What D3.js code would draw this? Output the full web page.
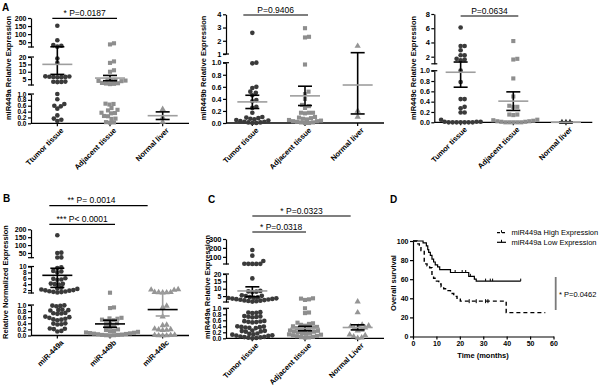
<!DOCTYPE html>
<html>
<head>
<meta charset="utf-8">
<script src="https://cdn.jsdelivr.net/npm/d3@7"></script>
<style>
  body { margin: 0; background: #fff; }
  svg { display: block; }
</style>
</head>
<body>
<svg id="fig" width="600" height="388"></svg>
<script>
"use strict";

const FONT = "'Liberation Sans', Arial, Helvetica, sans-serif";

// ---------- Panel A (miR449a) ----------
const catA1 = ["Ttumor tissue", "Adjacent tissue", "Normal liver"];
const tumorA1 = [152, 62, 32, 28, 22, 19, 16, 6.9, 6.8, 6.6, 6.5, 6.4, 6.3, 6.2, 3.3, 3.2, 3.1, 3.0,
    1.0, 0.82, 0.66, 0.6, 0.58, 0.5, 0.27, 0.16, 0.12, 0.08];
const adjA1 = [43, 36, 17, 16, 11, 10, 4.6, 4.4, 4.2, 4.0, 3.8, 3.6, 2.4, 2.2, 2.0, 1.8, 1.6,
    0.67, 0.66, 0.64, 0.52, 0.46, 0.44, 0.36, 0.35, 0.34, 0.25, 0.24, 0.16, 0.15, 0.04, 0.03, 0.02];
const normA1 = [0.48, 0.2, 0.05];
const meanA1 = [15, 5.7, 0.26], loA1 = [8.2, 3.9, 0.13], hiA1 = [21.5, 7.5, 0.39];
const ticksA1 = [[0, 0.2, 0.4, 0.6, 0.8, 1.0], [5, 10, 15, 20], [50, 100, 150, 200]];

// ---------- Panel A (miR449b) ----------
const catA2 = ["Tumor tissue", "Adjacent tissue", "Normal liver"];
const tumorA2 = [2.6, 1.0, 0.99, 0.6, 0.58, 0.52, 0.5, 0.46, 0.38, 0.36, 0.27, 0.25, 0.17,
    0.1, 0.09, 0.08, 0.07, 0.06, 0.05, 0.04, 0.03, 0.02, 0.02, 0.01, 0.01, 0.0, 0.0];
const adjA2 = [2.95, 2.3, 2.25, 0.97, 0.52, 0.48, 0.4, 0.3, 0.28, 0.25, 0.17, 0.17, 0.17, 0.16,
    0.1, 0.09, 0.08, 0.07, 0.06, 0.05, 0.04, 0.03, 0.03, 0.02, 0.01, 0.01, 0.0, 0.0];
const normA2 = [1.6, 0.2, 0.1];
const meanA2 = [0.35, 0.45, 0.63], loA2 = [0.24, 0.29, 0.15], hiA2 = [0.46, 0.61, 1.1];
const ticksA2 = [[0, 0.2, 0.4, 0.6, 0.8, 1.0], [1, 2, 3, 4]];

// ---------- Panel A (miR449c) ----------
const catA3 = ["Tumor tissue", "Adjacent tissue", "Normal liver"];
const tumorA3 = [6.1, 3.5, 3.5, 2.9, 2.2, 2.2, 1.7, 1.6, 1.5, 1.0, 0.78, 0.45, 0.45, 0.3, 0.27,
    0.19, 0.19, 0.05, 0.01, 0.01, 0.01, 0.0, 0.0, 0.0, 0.0, 0.0, 0.0, 0.0];
const adjA3 = [4.2, 1.7, 1.6, 0.85, 0.5, 0.32, 0.3, 0.3, 0.15, 0.15, 0.14, 0.05, 0.04, 0.03,
    0.02, 0.02, 0.01, 0.01, 0.0, 0.0, 0.0, 0.0, 0.0];
const normA3 = [0, 0, 0];
const meanA3 = [0.97, 0.41, 0], loA3 = [0.68, 0.23, 0], hiA3 = [1.25, 0.59, 0];
const ticksA3 = [[0, 0.2, 0.4, 0.6, 0.8, 1.0], [2, 4, 6, 8]];

// ---------- Panel B ----------
const catB = ["miR-449a", "miR-449b", "miR-449c"];
const mirB_a = [162, 52, 50, 22, 21, 9.7, 9.5, 8.5, 8.3, 8.0, 6.0, 5.8, 5.6, 5.5, 4.2, 4.1, 4.0, 3.9,
    2.8, 2.6, 2.4, 2.2, 2.0, 1.9, 1.8, 1.6, 1.5, 1.4, 1.3, 1.2,
    0.99, 0.98, 0.97, 0.96, 0.85, 0.84, 0.83, 0.82, 0.74, 0.73, 0.72, 0.71, 0.62, 0.6, 0.58,
    0.55, 0.53, 0.52, 0.5, 0.4, 0.39, 0.37, 0.36, 0.23, 0.22, 0.21, 0.15, 0.13];
const mirB_b = [1.1, 0.92, 0.9, 0.58, 0.56, 0.55, 0.52, 0.5, 0.48, 0.42, 0.4, 0.32, 0.3, 0.28, 0.2,
    0.18, 0.15, 0.14, 0.12, 0.1, 0.09, 0.08, 0.07, 0.06, 0.05, 0.04, 0.03, 0.02, 0.02, 0.01, 0.01, 0.0];
const mirB_c = [2.2, 2.1, 2.0, 1.3, 1.25, 1.2, 1.15, 1.1, 0.97, 0.92, 0.62, 0.35, 0.33, 0.22, 0.2,
    0.19, 0.18, 0.17, 0.02, 0.01, 0.01, 0.0, 0.0, 0.0];
const meanB = [7.0, 0.38, 0.85], loB = [2.9, 0.27, 0.64], hiB = [9.4, 0.5, 1.1];
const ticksB = [[0, 0.2, 0.4, 0.6, 0.8, 1.0], [2, 4, 6, 8, 10], [50, 100, 150, 200]];

// ---------- Panel C ----------
const catC = ["Tumor tissue", "Adjacent tissue", "Normal Liver"];
const tumorC = [177, 113, 54, 23, 22, 22, 21, 21,
    17, 8.5, 8.2, 8.0, 7.8, 5.5, 5.2, 5.0, 4.3, 4.1, 3.9, 3.7, 3.5, 3.3, 3.1, 2.9, 2.7, 2.5, 2.3,
    2.1, 1.9, 1.7, 1.5, 1.3,
    0.87, 0.86, 0.85, 0.84, 0.74, 0.73, 0.72, 0.71, 0.7, 0.58, 0.57, 0.56, 0.55, 0.54, 0.53,
    0.4, 0.39, 0.38, 0.37, 0.36, 0.35, 0.34, 0.26, 0.25, 0.24, 0.23, 0.22,
    0.16, 0.15, 0.13, 0.12, 0.1, 0.09, 0.08, 0.06, 0.05, 0.04, 0.03, 0.02, 0.01, 0.0];
const adjC = [3.5, 3.3, 2.8, 2.4, 1.0, 0.86, 0.84, 0.52, 0.5, 0.48, 0.45, 0.42, 0.4, 0.38, 0.36,
    0.34, 0.32, 0.3, 0.28, 0.26, 0.25, 0.23, 0.22, 0.2, 0.18, 0.17, 0.15, 0.13, 0.12, 0.1, 0.08,
    0.07, 0.05, 0.04, 0.03, 0.02];
const normC = [1.2, 0.86, 0.45, 0.42, 0.4, 0.38, 0.35, 0.33, 0.28, 0.25, 0.12, 0.1, 0.06, 0.02, 0.01];
const meanC = [8.5, 0.33, 0.36], loC = [4.6, 0.25, 0.28], hiC = [11.3, 0.4, 0.45];
const ticksC = [[0, 0.2, 0.4, 0.6, 0.8, 1.0], [5, 10, 15, 20], [100, 200, 300]];

// ---------- Panel D (Kaplan-Meier) ----------
const highTime = [0, 1.7, 2.7, 3.4, 4.8, 6, 7.1, 8.1, 8.8, 10, 11, 12, 13.1, 14.5, 16, 17.4, 18.8, 20.2, 39.8, 56.5];
const highSurv = [100, 97, 93, 90, 76, 74, 72, 64, 61, 58, 55, 52, 50, 48, 45, 42, 39, 37, 25, 25];
const highCensor = [24, 27, 31, 32];
const lowTime = [0, 4.3, 5.7, 6.3, 6.7, 7.4, 8.1, 8.8, 9.5, 10.5, 11.4, 16, 23.8, 26.2, 27, 46];
const lowSurv = [100, 98, 95, 91, 88, 85, 81, 78, 75, 73, 70, 67, 63, 60, 58, 58];
const lowCensor = [18, 21, 22.5, 24.5, 31, 33, 34, 46];
const kmXTicks = [0, 10, 20, 30, 40, 50, 60];
const kmYTicks = [0, 20, 40, 60, 80, 100];

const fig = d3.select("#fig").attr("font-family", FONT);

// scale made of stacked linear pieces (broken y axis)
function brokenScale(segs) {
    const scales = segs.map((s) => d3.scaleLinear().domain(s.domain).range(s.range));
    const f = (v) => {
        for (let i = 0; i < segs.length; i++) {
            if (v <= segs[i].domain[1] || i === segs.length - 1) return scales[i](v);
        }
    };
    f.scales = scales;
    return f;
}

// simple beeswarm: lowest values placed first, nearest free horizontal slot
function swarm(values, y, d) {
    const pts = values.map((v) => ({ v, y: y(v), dx: 0 })).sort((a, b) => b.y - a.y);
    const placed = [];
    pts.forEach((p) => {
        for (let k = 0; k < 600; k++) {
            const off = Math.ceil(k / 2) * 0.5 * (k % 2 ? 1 : -1);
            const hit = placed.some((q) => (q.dx - off) ** 2 + (q.y - p.y) ** 2 < d * d);
            if (!hit) { p.dx = off; break; }
        }
        placed.push(p);
    });
    return pts;
}

const shapes = [
    { type: d3.symbolCircle, size: 17, fill: "#3a3a3a" },
    { type: d3.symbolSquare, size: 17, fill: "#8e8e8e" },
    { type: d3.symbolTriangle, size: 17, fill: "#959595" }
];

function drawScatter(p) {
    const g = fig.append("g");
    const y = brokenScale(p.segs);
    const x = d3.scalePoint().domain(p.cats).range([p.x0, p.x0 + 158]).padding(0.5);

    // y axis pieces
    p.segs.forEach((s, i) => {
        const ax = g.append("g")
            .attr("transform", `translate(${p.x0},0)`)
            .call(d3.axisLeft(y.scales[i])
                .tickValues(p.ticks[i])
                .tickSize(3)
                .tickSizeOuter(0)
                .tickPadding(1.5)
                .tickFormat(s.domain[1] <= 1 ? d3.format(".1f") : d3.format("d")));
        ax.attr("font-family", FONT).attr("font-size", p.tickFont[i]).attr("font-weight", "bold");
        ax.selectAll("path, line").attr("stroke", "#000").attr("stroke-width", 1.2);
        if (i > 0) ax.append("line").attr("x1", -3).attr("x2", 3)
            .attr("y1", s.range[0]).attr("y2", s.range[0]).attr("stroke", "#000").attr("stroke-width", 1.2);
        if (i < p.segs.length - 1) ax.append("line").attr("x1", -3).attr("x2", 3)
            .attr("y1", s.range[1]).attr("y2", s.range[1]).attr("stroke", "#000").attr("stroke-width", 1.2);
    });

    // x axis
    g.append("line").attr("x1", p.x0).attr("x2", p.x0 + 158)
        .attr("y1", p.base).attr("y2", p.base).attr("stroke", "#000").attr("stroke-width", 1.3);
    g.selectAll(".xt").data(p.cats).join("line")
        .attr("x1", (d) => x(d)).attr("x2", (d) => x(d))
        .attr("y1", p.base).attr("y2", p.base + 3).attr("stroke", "#000").attr("stroke-width", 1.2);
    g.selectAll(".xl").data(p.cats).join("text")
        .attr("transform", (d) => `translate(${x(d) + 3},${p.base + 4}) rotate(-45)`)
        .attr("text-anchor", "end").attr("dy", "0.7em")
        .attr("font-size", 7.5).attr("font-weight", "bold")
        .text((d) => d);

    // points
    p.groups.forEach((vals, gi) => {
        const cx = x(p.cats[gi]);
        const sh = shapes[gi];
        g.append("g").selectAll("path").data(swarm(vals, y, 4)).join("path")
            .attr("d", d3.symbol(sh.type, sh.size))
            .attr("transform", (d) => `translate(${cx + d.dx},${d.y})`)
            .attr("fill", p.fills ? p.fills[gi] : sh.fill);
    });

    // mean and SEM
    p.cats.forEach((c, gi) => {
        const cx = x(c);
        const meanColor = p.meanColors[gi], errColor = p.errColors[gi];
        g.append("line").attr("x1", cx).attr("x2", cx)
            .attr("y1", y(p.lo[gi])).attr("y2", y(p.hi[gi]))
            .attr("stroke", errColor).attr("stroke-width", 1.6);
        [p.lo[gi], p.hi[gi]].forEach((v) => {
            g.append("line").attr("x1", cx - 7).attr("x2", cx + 7)
                .attr("y1", y(v)).attr("y2", y(v))
                .attr("stroke", errColor).attr("stroke-width", 1.6);
        });
        g.append("line").attr("x1", cx - 15).attr("x2", cx + 15)
            .attr("y1", y(p.mean[gi])).attr("y2", y(p.mean[gi]))
            .attr("stroke", meanColor).attr("stroke-width", 1.6);
    });

    // significance bars
    p.bars.forEach((b) => {
        const x1 = x(p.cats[b.from]) + b.dx1, x2 = x(p.cats[b.to]) + b.dx2;
        g.append("line").attr("x1", x1).attr("x2", x2).attr("y1", b.y).attr("y2", b.y)
            .attr("stroke", "#000").attr("stroke-width", 1.2);
        g.append("text").attr("x", (x1 + x2) / 2 + (b.tdx || 0)).attr("y", b.y - 2.5)
            .attr("text-anchor", "middle").attr("font-size", 8.5)
            .text(b.label);
    });

    // y title
    g.append("text")
        .attr("transform", `translate(${p.titleX},${p.titleY}) rotate(-90)`)
        .attr("text-anchor", "middle").attr("dominant-baseline", "central")
        .attr("font-size", 7.5).attr("font-weight", "bold")
        .text(p.title);
}

const grayMean = ["#9e9e9e", "#9e9e9e", "#9e9e9e"], blackErr = ["#000", "#000", "#000"];

drawScatter({
    x0: 31, base: 123.3, cats: catA1, groups: [tumorA1, adjA1, normA1],
    segs: [{ domain: [0, 1], range: [123.3, 94] }, { domain: [1, 20], range: [85, 57] }, { domain: [20, 200], range: [47, 18] }],
    tickFont: [6.5, 7, 7],
    ticks: ticksA1, mean: meanA1, lo: loA1, hi: hiA1, meanColors: grayMean, errColors: blackErr,
    bars: [{ from: 0, to: 1, dx1: -5, dx2: 7, y: 18.3, label: "* P=0.0187" }],
    title: "miR449a Relative Expression", titleX: 8.5, titleY: 68
});

drawScatter({
    x0: 226, base: 123, cats: catA2, groups: [tumorA2, adjA2, normA2],
    segs: [{ domain: [0, 1], range: [123, 62.7] }, { domain: [1, 4], range: [54, 14.3] }],
    tickFont: [7, 7.5],
    ticks: ticksA2, mean: meanA2, lo: loA2, hi: hiA2, meanColors: grayMean, errColors: blackErr,
    bars: [{ from: 0, to: 1, dx1: -9, dx2: 3, y: 15, label: "P=0.9406" }],
    title: "miR449b Relative Expression", titleX: 203.5, titleY: 68
});

drawScatter({
    x0: 434.3, base: 122.3, cats: catA3, groups: [tumorA3, adjA3, normA3],
    segs: [{ domain: [0, 1], range: [122.3, 70.7] }, { domain: [1, 8], range: [63.8, 14] }],
    tickFont: [7, 7.5],
    ticks: ticksA3, mean: meanA3, lo: loA3, hi: hiA3, meanColors: grayMean, errColors: blackErr,
    fills: ["#3a3a3a", "#8e8e8e", "#333"],
    bars: [{ from: 0, to: 1, dx1: 0, dx2: 5, y: 16, label: "P=0.0634" }],
    title: "miR449c Relative Expression", titleX: 413, titleY: 68
});

drawScatter({
    x0: 31, base: 335.5, cats: catB, groups: [mirB_a, mirB_b, mirB_c],
    segs: [{ domain: [0, 1], range: [335.5, 305] }, { domain: [1, 10], range: [293, 266.5] }, { domain: [20, 200], range: [257.7, 229.3] }],
    tickFont: [6.5, 6.5, 7],
    ticks: ticksB, mean: meanB, lo: loB, hi: hiB,
    meanColors: ["#000", "#000", "#000"], errColors: ["#000", "#000", "#9e9e9e"],
    bars: [
        { from: 0, to: 2, dx1: -8, dx2: -15, y: 205.7, label: "**  P= 0.0014", tdx: -7 },
        { from: 0, to: 1, dx1: -8, dx2: 5, y: 224.3, label: "*** P< 0.0001" }
    ],
    title: "Relative Normalized Expression", titleX: 5.5, titleY: 282
});

drawScatter({
    x0: 226, base: 338.3, cats: catC, groups: [tumorC, adjC, normC],
    segs: [{ domain: [0, 1], range: [338.3, 308.3] }, { domain: [1, 20], range: [302, 274] }, { domain: [20, 300], range: [264, 239] }],
    tickFont: [6.5, 7, 7.5],
    ticks: ticksC, mean: meanC, lo: loC, hi: hiC, meanColors: grayMean, errColors: blackErr,
    bars: [
        { from: 0, to: 2, dx1: 0, dx2: -7, y: 216, label: "* P=0.0323" },
        { from: 0, to: 1, dx1: 0, dx2: 1, y: 232, label: "* P=0.0318", tdx: 2 }
    ],
    title: "miR449a Relative Expression", titleX: 207.5, titleY: 287
});

// panel letters
[["A", 2, 11], ["B", 3, 202], ["C", 208, 203], ["D", 390, 203]].forEach(([t, px, py]) => {
    fig.append("text").attr("x", px).attr("y", py)
        .attr("font-size", 10).attr("font-weight", "bold").text(t);
});

// ---------- Kaplan-Meier ----------
const kmX = d3.scaleLinear().domain([0, 60]).range([413, 553.5]);
const kmY = d3.scaleLinear().domain([0, 100]).range([336.5, 241]);
const km = fig.append("g");

const kmXAxis = km.append("g").attr("transform", `translate(0,${kmY(0)})`)
    .call(d3.axisBottom(kmX).tickValues(kmXTicks).tickSize(3).tickSizeOuter(0).tickPadding(2));
const kmYAxis = km.append("g").attr("transform", `translate(${kmX(0)},0)`)
    .call(d3.axisLeft(kmY).tickValues(kmYTicks).tickSize(3).tickSizeOuter(0).tickPadding(1.5));
[kmXAxis, kmYAxis].forEach((ax) => {
    ax.attr("font-family", FONT).attr("font-size", 7).attr("font-weight", "bold");
    ax.selectAll("path, line").attr("stroke", "#000").attr("stroke-width", 1.2);
});

const stepLine = d3.line().x((d) => kmX(d[0])).y((d) => kmY(d[1])).curve(d3.curveStepAfter);
const highPts = highTime.map((t, i) => [t, highSurv[i]]);
const lowPts = lowTime.map((t, i) => [t, lowSurv[i]]);

function survAt(times, surv, t) {
    let s = surv[0];
    times.forEach((tt, i) => { if (tt <= t) s = surv[i]; });
    return s;
}

km.append("path").attr("d", stepLine(highPts)).attr("fill", "none")
    .attr("stroke", "#000").attr("stroke-width", 1.4).attr("stroke-dasharray", "4,3");
km.append("path").attr("d", stepLine(lowPts)).attr("fill", "none")
    .attr("stroke", "#000").attr("stroke-width", 1.2);

km.selectAll(".ch").data(highCensor).join("line")
    .attr("x1", (d) => kmX(d)).attr("x2", (d) => kmX(d))
    .attr("y1", (d) => kmY(survAt(highTime, highSurv, d)) - 2)
    .attr("y2", (d) => kmY(survAt(highTime, highSurv, d)) + 2)
    .attr("stroke", "#000").attr("stroke-width", 1);
km.selectAll(".cl").data(lowCensor).join("line")
    .attr("x1", (d) => kmX(d)).attr("x2", (d) => kmX(d))
    .attr("y1", (d) => kmY(survAt(lowTime, lowSurv, d)) - 2.5)
    .attr("y2", (d) => kmY(survAt(lowTime, lowSurv, d)))
    .attr("stroke", "#000").attr("stroke-width", 1);

km.append("text").attr("x", 483).attr("y", 358).attr("text-anchor", "middle")
    .attr("font-size", 7.5).attr("font-weight", "bold").text("Time (months)");
km.append("text").attr("transform", "translate(393,283) rotate(-90)")
    .attr("text-anchor", "middle").attr("dominant-baseline", "central")
    .attr("font-size", 7.5).attr("font-weight", "bold").text("Overall survival");

// legend
const legend = [
    { label: "miR449a High Expression", dash: "3,2", y: 232.7 },
    { label: "miR449a Low Expression", dash: null, y: 242.3 }
];
legend.forEach((l) => {
    km.append("line").attr("x1", 497).attr("x2", 506).attr("y1", l.y).attr("y2", l.y)
        .attr("stroke", "#000").attr("stroke-width", 1.2).attr("stroke-dasharray", l.dash);
    km.append("line").attr("x1", 501.5).attr("x2", 501.5).attr("y1", l.y - 2.5).attr("y2", l.y)
        .attr("stroke", "#000").attr("stroke-width", 1);
    km.append("text").attr("x", 511.5).attr("y", l.y).attr("dominant-baseline", "central")
        .attr("font-size", 7.5).text(l.label);
});

// log-rank annotation
km.append("line").attr("x1", 555.7).attr("x2", 555.7).attr("y1", 277).attr("y2", 310)
    .attr("stroke", "#7a7a7a").attr("stroke-width", 1.8);
km.append("text").attr("x", 559).attr("y", 294).attr("dominant-baseline", "central")
    .attr("font-size", 7.5).text("* P=0.0462");
</script>
</body>
</html>
